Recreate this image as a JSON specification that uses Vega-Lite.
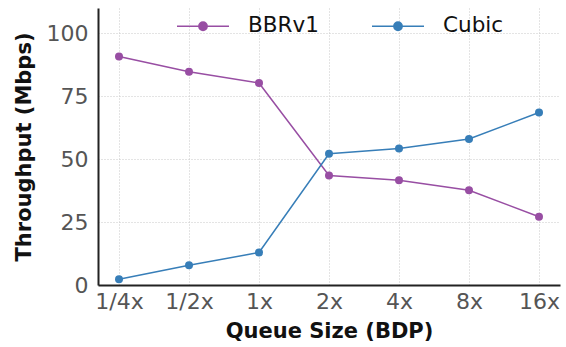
{
  "$schema": "https://vega.github.io/schema/vega-lite/v6.json",
  "width": 462,
  "height": 277,
  "autosize": {"type": "none"},
  "padding": {"left": 98, "top": 8, "right": 6, "bottom": 62},
  "background": "white",
  "data": {
    "values": [
      {"q": "1/4x", "s": "BBRv1", "t": 90.7},
      {"q": "1/2x", "s": "BBRv1", "t": 84.7},
      {"q": "1x", "s": "BBRv1", "t": 80.2},
      {"q": "2x", "s": "BBRv1", "t": 43.5},
      {"q": "4x", "s": "BBRv1", "t": 41.6},
      {"q": "8x", "s": "BBRv1", "t": 37.6},
      {"q": "16x", "s": "BBRv1", "t": 27.1},
      {"q": "1/4x", "s": "Cubic", "t": 2.3},
      {"q": "1/2x", "s": "Cubic", "t": 7.8},
      {"q": "1x", "s": "Cubic", "t": 12.9},
      {"q": "2x", "s": "Cubic", "t": 52.1},
      {"q": "4x", "s": "Cubic", "t": 54.2},
      {"q": "8x", "s": "Cubic", "t": 58.0},
      {"q": "16x", "s": "Cubic", "t": 68.5}
    ]
  },
  "config": {
    "font": "DejaVu Sans",
    "view": {"stroke": null},
    "axis": {
      "grid": true,
      "gridColor": "#c8c8c8",
      "gridDash": [1, 2],
      "gridWidth": 1,
      "domainColor": "#222",
      "domainWidth": 2,
      "ticks": false,
      "labelFont": "DejaVu Sans",
      "labelFontSize": 22,
      "labelColor": "#555",
      "titleFont": "DejaVu Sans",
      "titleFontSize": 21,
      "titleFontWeight": "bold",
      "titleColor": "#111"
    }
  },
  "mark": {"type": "line", "strokeWidth": 1.5, "point": {"filled": true, "size": 64, "opacity": 1}},
  "encoding": {
    "x": {
      "field": "q",
      "type": "ordinal",
      "sort": ["1/4x", "1/2x", "1x", "2x", "4x", "8x", "16x"],
      "scale": {"type": "point", "padding": 0.3},
      "axis": {"title": "Queue Size (BDP)", "labelAngle": 0, "labelPadding": 6, "titlePadding": 8}
    },
    "y": {
      "field": "t",
      "type": "quantitative",
      "scale": {"domain": [0, 110], "nice": false},
      "axis": {"title": "Throughput (Mbps)", "values": [0, 25, 50, 75, 100], "labelPadding": 10, "titlePadding": 12}
    },
    "color": {
      "field": "s",
      "type": "nominal",
      "scale": {"domain": ["BBRv1", "Cubic"], "range": ["#984ea3", "#377eb8"]},
      "legend": {
        "title": null,
        "orient": "none",
        "legendX": 78,
        "legendY": -9,
        "direction": "horizontal",
        "symbolType": "M-1,0H1M0.16,0A0.16,0.16 0 1,1 -0.16,0A0.16,0.16 0 1,1 0.16,0",
        "symbolSize": 2704,
        "symbolStrokeWidth": 1.5,
        "labelFontSize": 21.5,
        "labelColor": "#111",
        "labelOffset": 18,
        "columnPadding": 50,
        "encode": {"symbols": {"update": {"fill": {"scale": "color", "field": "value"}, "fillOpacity": {"value": 1}}}}
      }
    }
  }
}
